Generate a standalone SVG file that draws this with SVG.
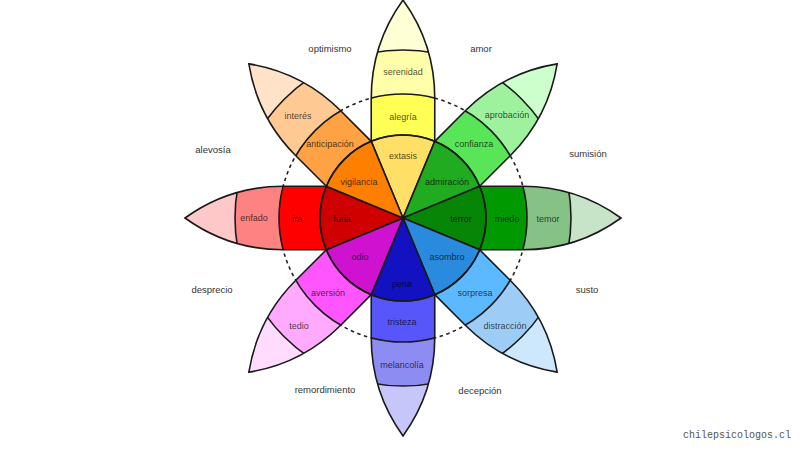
<svg xmlns="http://www.w3.org/2000/svg" xmlns:xlink="http://www.w3.org/1999/xlink" width="800" height="450" viewBox="0 0 800 450">
<style>
.ln{stroke:#1a1a1a;stroke-width:1.6;fill:none}
.t{font-family:"Liberation Sans",Arial,sans-serif;font-size:9px;fill:#000;fill-opacity:0.72;text-anchor:middle}
.o{font-family:"Liberation Sans",Arial,sans-serif;font-size:9.5px;fill:#333;text-anchor:middle}
.wm{font-family:"Liberation Mono","DejaVu Sans Mono",monospace;font-size:10px;fill:#555}
</style>
<defs>
<clipPath id="pc"><path d="M-31.76,-76.68 L-31.76,-119.86 A167.5,167.5 0 0 1 0,-218 A167.5,167.5 0 0 1 31.76,-119.86 L31.76,-76.68 Z"/></clipPath>
<path id="outline" d="M-31.76,-76.68 L-31.76,-119.86 A167.5,167.5 0 0 1 0,-218 A167.5,167.5 0 0 1 31.76,-119.86 L31.76,-76.68"/>
<path id="wedge" d="M0,0 L-31.76,-76.68 A83,83 0 0 1 31.76,-76.68 Z"/>
</defs>
<rect width="800" height="450" fill="#fff"/>
<circle cx="403" cy="218" r="124" fill="none" stroke="#222" stroke-width="1.6" stroke-dasharray="3.5,3.5"/>

<g id="alegria" transform="translate(403,218) rotate(0)">
<g clip-path="url(#pc)"><circle r="220" fill="#ffffd6"/><circle r="168" fill="#ffffaa"/><circle r="124" fill="#ffff55"/><circle r="168" class="ln"/><circle r="124" class="ln"/></g>
<use href="#outline" class="ln"/><use href="#wedge" class="ln" style="fill:#ffdf66"/>
</g>
<g id="confianza" transform="translate(403,218) rotate(45)">
<g clip-path="url(#pc)"><circle r="220" fill="#ccffcc"/><circle r="168" fill="#9ef29e"/><circle r="124" fill="#58e658"/><circle r="168" class="ln"/><circle r="124" class="ln"/></g>
<use href="#outline" class="ln"/><use href="#wedge" class="ln" style="fill:#20ab20"/>
</g>
<g id="miedo" transform="translate(403,218) rotate(90)">
<g clip-path="url(#pc)"><circle r="220" fill="#c8e4c8"/><circle r="168" fill="#86c286"/><circle r="124" fill="#009a00"/><circle r="168" class="ln"/><circle r="124" class="ln"/></g>
<use href="#outline" class="ln"/><use href="#wedge" class="ln" style="fill:#078507"/>
</g>
<g id="sorpresa" transform="translate(403,218) rotate(135)">
<g clip-path="url(#pc)"><circle r="220" fill="#cde8fc"/><circle r="168" fill="#9dcdf6"/><circle r="124" fill="#5cb8ff"/><circle r="168" class="ln"/><circle r="124" class="ln"/></g>
<use href="#outline" class="ln"/><use href="#wedge" class="ln" style="fill:#2a8ade"/>
</g>
<g id="tristeza" transform="translate(403,218) rotate(180)">
<g clip-path="url(#pc)"><circle r="220" fill="#c6c6fa"/><circle r="168" fill="#8c8cf2"/><circle r="124" fill="#5656fa"/><circle r="168" class="ln"/><circle r="124" class="ln"/></g>
<use href="#outline" class="ln"/><use href="#wedge" class="ln" style="fill:#1212c2"/>
</g>
<g id="aversion" transform="translate(403,218) rotate(225)">
<g clip-path="url(#pc)"><circle r="220" fill="#ffdcff"/><circle r="168" fill="#ffaaff"/><circle r="124" fill="#ff55ff"/><circle r="168" class="ln"/><circle r="124" class="ln"/></g>
<use href="#outline" class="ln"/><use href="#wedge" class="ln" style="fill:#cf12cf"/>
</g>
<g id="ira" transform="translate(403,218) rotate(270)">
<g clip-path="url(#pc)"><circle r="220" fill="#ffc8c8"/><circle r="168" fill="#ff8282"/><circle r="124" fill="#ff0000"/><circle r="168" class="ln"/><circle r="124" class="ln"/></g>
<use href="#outline" class="ln"/><use href="#wedge" class="ln" style="fill:#d00000"/>
</g>
<g id="anticipacion" transform="translate(403,218) rotate(315)">
<g clip-path="url(#pc)"><circle r="220" fill="#ffe2c8"/><circle r="168" fill="#ffc994"/><circle r="124" fill="#ffa243"/><circle r="168" class="ln"/><circle r="124" class="ln"/></g>
<use href="#outline" class="ln"/><use href="#wedge" class="ln" style="fill:#ff8000"/>
</g>
<circle id="centro" cx="403" cy="218" r="83" class="ln"/>

<g id="labels">
<text class="t" x="403" y="159">extasis</text>
<text class="t" x="403" y="120">alegría</text>
<text class="t" x="403" y="75">serenidad</text>
<text class="t" x="447" y="185">admiración</text>
<text class="t" x="474" y="147">confianza</text>
<text class="t" x="507" y="118">aprobación</text>
<text class="t" x="461" y="222">terror</text>
<text class="t" x="507" y="222">miedo</text>
<text class="t" x="548" y="222">temor</text>
<text class="t" x="447" y="260">asombro</text>
<text class="t" x="475" y="296">sorpresa</text>
<text class="t" x="505" y="329">distracción</text>
<text class="t" x="402" y="287">pena</text>
<text class="t" x="402" y="325">tristeza</text>
<text class="t" x="402" y="368">melancolía</text>
<text class="t" x="360" y="260">odio</text>
<text class="t" x="328" y="296">aversión</text>
<text class="t" x="299" y="329">tedio</text>
<text class="t" x="342" y="222">furia</text>
<text class="t" x="297" y="222">ira</text>
<text class="t" x="254" y="221">enfado</text>
<text class="t" x="359" y="185">vigilancia</text>
<text class="t" x="330" y="147">anticipación</text>
<text class="t" x="298" y="119">interés</text>
</g>
<g id="diadas">
<text class="o" x="330" y="52">optimismo</text>
<text class="o" x="481" y="52">amor</text>
<text class="o" x="588" y="157">sumisión</text>
<text class="o" x="587" y="293">susto</text>
<text class="o" x="480" y="394">decepción</text>
<text class="o" x="325" y="393">remordimiento</text>
<text class="o" x="212" y="293">desprecio</text>
<text class="o" x="213" y="153">alevosía</text>
</g>
<text class="wm" x="683" y="438">chilepsicologos.cl</text>
</svg>
